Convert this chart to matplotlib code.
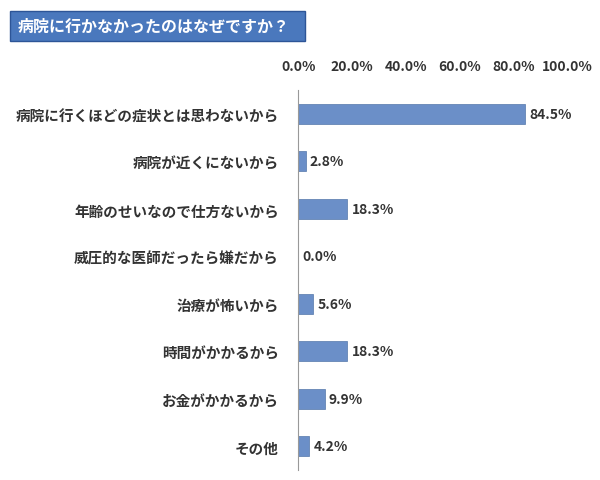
import matplotlib
matplotlib.use("Agg")
import matplotlib.pyplot as plt
from matplotlib.patches import FancyBboxPatch

plt.rcParams["font.family"] = "Noto Sans CJK JP"

title = "病院に行かなかったのはなぜですか？"
categories = ["病院に行くほどの症状とは思わないから", "病院が近くにないから", "年齢のせいなので仕方ないから",
              "威圧的な医師だったら嫌だから", "治療が怖いから", "時間がかかるから", "お金がかかるから", "その他"]
values = [84.5, 2.8, 18.3, 0.0, 5.6, 18.3, 9.9, 4.2]
ticks = [0, 20, 40, 60, 80, 100]
tick_labels = ["0.0%", "20.0%", "40.0%", "60.0%", "80.0%", "100.0%"]

fig = plt.figure(figsize=(6, 4.81), dpi=100)
ax = fig.add_axes([0.497, 0.021, 0.448, 0.79])
y = list(range(len(categories)))
ax.barh(y, values, height=0.42, color="#6b8fc8", edgecolor="#5577aa", linewidth=0.5)
ax.set_ylim(len(categories) - 0.5, -0.5)
ax.set_xlim(0, 100)
ax.xaxis.tick_top()
ax.set_xticks(ticks)
ax.set_xticklabels(tick_labels, fontsize=10, fontweight="bold", color="#333333")
ax.set_yticks(y)
ax.set_yticklabels(categories, fontsize=10.5, fontweight="bold", color="#333333")
ax.tick_params(length=0, pad=14)
ax.tick_params(axis="x", pad=12)
for s in ["top", "right", "bottom"]:
    ax.spines[s].set_visible(False)
ax.spines["left"].set_color("#999999")
for yi, v in zip(y, values):
    ax.text(v + 1.5, yi, f"{v:.1f}%", va="center", ha="left", fontsize=10, fontweight="bold", color="#333333")

box = FancyBboxPatch((10 / 600, 1 - 42 / 481), 295 / 600, 30 / 481, boxstyle="square,pad=0",
                     transform=fig.transFigure, facecolor="#4a78bd", edgecolor="#2d5597", linewidth=1)
fig.patches.append(box)
fig.text(18 / 600, 1 - 27 / 481, title, color="white", fontsize=11.5, fontweight="bold", va="center", ha="left")

fig.savefig("out.png", dpi=100)
